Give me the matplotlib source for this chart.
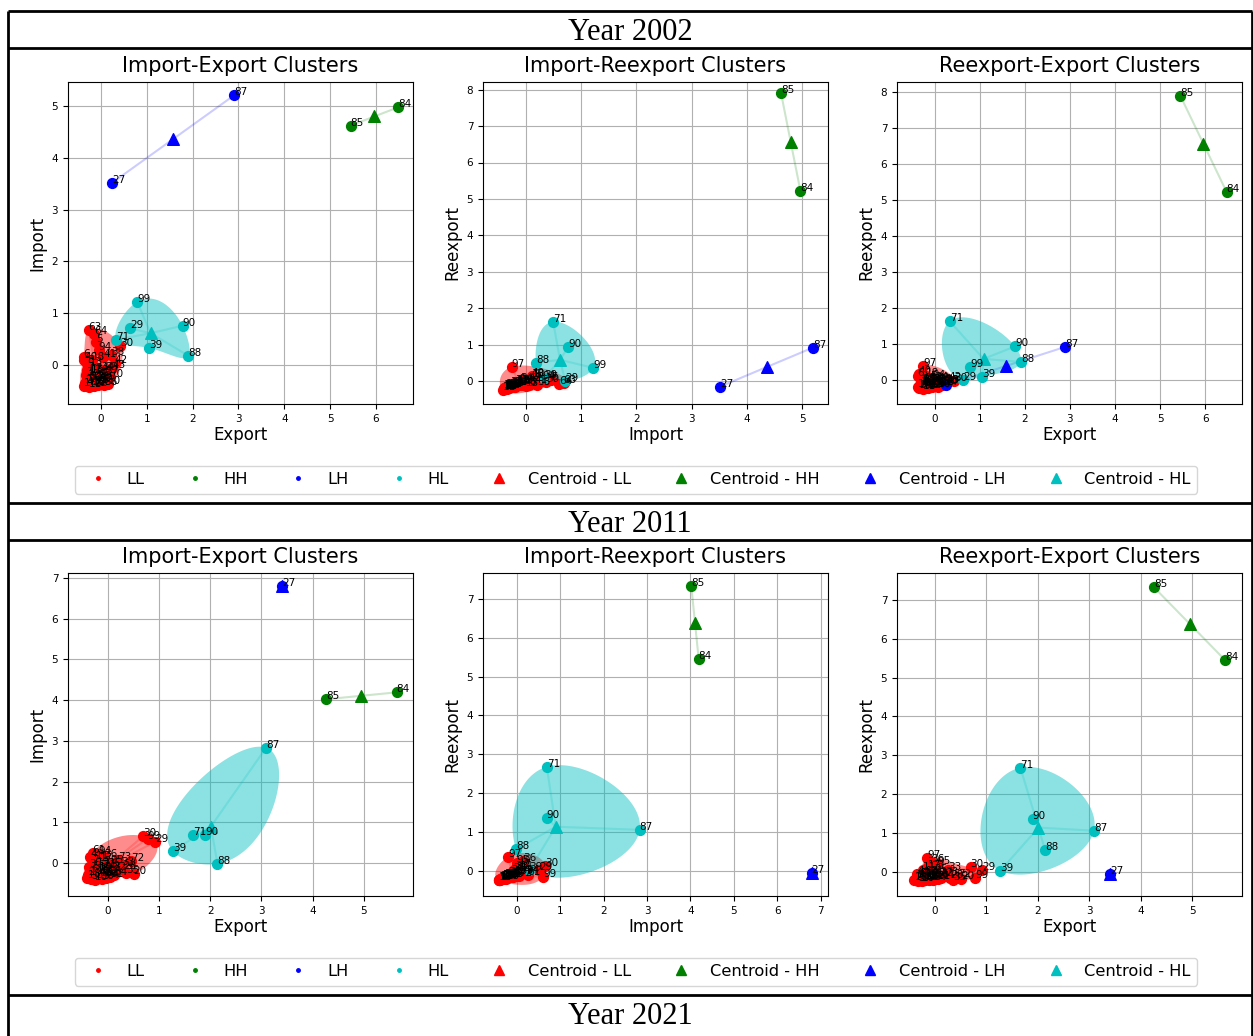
import numpy as np
import matplotlib
matplotlib.use("Agg")
import matplotlib.pyplot as plt
from matplotlib.lines import Line2D

# ---------------- DATA ----------------
cluster_names = ["LL", "HH", "LH", "HL"]
cluster_colors = {"LL": "r", "HH": "g", "LH": "b", "HL": "c"}
legend_labels = ["LL", "HH", "LH", "HL",
                 "Centroid - LL", "Centroid - HH", "Centroid - LH", "Centroid - HL"]
panel_titles = ["Import-Export Clusters", "Import-Reexport Clusters", "Reexport-Export Clusters"]
years = ["Year 2002", "Year 2011", "Year 2021"]

# Year 2002
ids_2002 = [87, 27, 85, 84, 99, 29, 90, 39, 88, 71,
            63, 64, 5, 94, 38, 70, 10, 33, 97, 30, 42, 6, 1, 2, 3, 4, 7, 8, 9, 11,
            12, 13, 14, 15, 16, 17, 18, 19, 21, 22, 23, 24, 25, 26, 28, 31, 32, 34,
            35, 36, 37, 40, 41, 43]
export_2002 = [2.90, 0.25, 5.45, 6.48, 0.79, 0.63, 1.78, 1.05, 1.91, 0.33,
               -0.27, -0.15, -0.10, -0.05, 0.22, 0.20, 0.15, 0.10, -0.26, 0.42, 0.30, -0.38,
               -0.38, -0.35, -0.33, -0.32, -0.30, -0.30, -0.28, -0.27, -0.26, -0.25, -0.24,
               -0.22, -0.21, -0.20, -0.19, -0.18, -0.16, -0.15, -0.13, -0.12, -0.10, -0.08,
               -0.06, -0.04, -0.02, 0.00, 0.03, 0.06, 0.10, -0.36, 0.05, 0.25]
import_2002 = [5.20, 3.52, 4.62, 4.97, 1.22, 0.71, 0.76, 0.33, 0.18, 0.49,
               0.68, 0.60, 0.45, 0.30, 0.20, -0.22, -0.36, -0.10, -0.26, 0.36, 0.05, 0.15,
               -0.40, -0.35, -0.20, -0.38, -0.10, 0.05, -0.30, -0.42, -0.15, 0.00, -0.33,
               -0.15, -0.38, -0.28, 0.10, -0.36, -0.22, -0.40, -0.30, -0.12, -0.34, -0.26,
               -0.39, -0.20, -0.32, -0.10, -0.28, -0.38, -0.18, 0.10, 0.15, -0.05]
reexport_2002 = [0.92, -0.15, 7.90, 5.22, 0.36, 0.00, 0.93, 0.08, 0.50, 1.63,
                 -0.05, -0.08, 0.02, 0.05, -0.10, -0.12, -0.15, -0.05, 0.39, -0.02, 0.00, 0.12,
                 -0.20, -0.22, -0.15, -0.18, -0.10, -0.12, -0.20, -0.25, -0.05, -0.14, -0.18,
                 -0.08, -0.22, -0.16, 0.10, -0.19, -0.11, -0.23, -0.15, -0.02, -0.20, -0.13,
                 -0.21, -0.06, -0.17, 0.00, -0.12, -0.20, -0.09, 0.15, -0.04, -0.08]
cluster_2002 = ["LH", "LH", "HH", "HH", "HL", "HL", "HL", "HL", "HL", "HL"] + ["LL"] * 44

# Year 2011
ids_2011 = [27, 85, 84, 87, 71, 90, 39, 88,
            30, 99, 29, 61, 94, 73, 72, 28, 20, 97, 95, 33, 1, 2, 3, 4, 5, 6, 7, 8, 9,
            10, 11, 12, 13, 14, 15, 16, 17, 18, 19, 21, 22, 23, 24, 25, 26, 31, 32, 34,
            35, 36]
export_2011 = [3.40, 4.26, 5.64, 3.09, 1.66, 1.90, 1.27, 2.14,
               0.69, 0.78, 0.92, -0.30, -0.18, 0.20, 0.45, 0.30, 0.50, -0.15, 0.05, 0.25,
               -0.40, -0.38, -0.36, -0.35, -0.33, -0.32, -0.30, -0.28, -0.27, -0.25, -0.24,
               -0.22, -0.21, -0.20, -0.18, -0.16, -0.15, -0.13, -0.12, -0.10, -0.08, -0.06,
               -0.04, -0.02, 0.00, 0.05, 0.10, 0.12, 0.35, -0.08]
import_2011 = [6.79, 4.02, 4.19, 2.83, 0.69, 0.69, 0.29, -0.02,
               0.66, 0.60, 0.52, 0.25, 0.22, 0.08, 0.05, -0.15, -0.28, -0.20, 0.00, -0.05,
               -0.38, -0.30, -0.10, 0.15, -0.40, -0.22, 0.00, -0.35, -0.15, -0.42, 0.10,
               -0.28, -0.05, -0.38, -0.18, -0.32, 0.05, -0.25, -0.40, -0.12, -0.30, -0.20,
               -0.36, -0.08, -0.26, -0.35, -0.18, -0.30, -0.25, 0.15]
reexport_2011 = [-0.05, 7.32, 5.45, 1.06, 2.68, 1.37, 0.03, 0.56,
                 0.12, -0.15, 0.04, -0.10, -0.05, -0.08, -0.12, -0.15, -0.18, 0.37, 0.20, 0.05,
                 -0.22, -0.20, -0.15, -0.05, -0.24, -0.18, -0.10, -0.21, -0.12, -0.23, 0.05,
                 -0.17, -0.08, -0.20, -0.14, -0.19, 0.10, -0.16, -0.22, -0.05, -0.18, -0.10,
                 -0.20, 0.00, -0.14, -0.19, -0.10, -0.16, -0.20, 0.25]
cluster_2011 = ["LH", "HH", "HH", "HL", "HL", "HL", "HL", "HL"] + ["LL"] * 42

# ---------------- LAYOUT ----------------
W, H = 1253, 1036
fig = plt.figure(figsize=(W / 100, H / 100), dpi=100)

def px_rect(l, t, r, b):
    return [l / W, 1 - b / H, (r - l) / W, (b - t) / H]

# background table
bg = fig.add_axes([0, 0, 1, 1])
bg.set_xlim(0, W)
bg.set_ylim(H, 0)
bg.axis("off")
for yy in [11, 48, 503, 540, 995]:
    bg.plot([8, 1252], [yy, yy], color="black", lw=2, solid_capstyle="butt")
for xx in [8, 1252]:
    bg.plot([xx, xx], [11, H], color="black", lw=2, solid_capstyle="butt")
for txt, yy in zip(years, [33, 525, 1017]):
    bg.text(630, yy, txt, ha="center", va="center", fontsize=22,
            family="Liberation Serif")


def convex_hull(pts):
    pts = sorted(set(map(tuple, pts)))
    if len(pts) < 3:
        return np.array(pts)

    def cross(o, a, b):
        return (a[0] - o[0]) * (b[1] - o[1]) - (a[1] - o[1]) * (b[0] - o[0])
    lower = []
    for p in pts:
        while len(lower) >= 2 and cross(lower[-2], lower[-1], p) <= 0:
            lower.pop()
        lower.append(p)
    upper = []
    for p in reversed(pts):
        while len(upper) >= 2 and cross(upper[-2], upper[-1], p) <= 0:
            upper.pop()
        upper.append(p)
    return np.array(lower[:-1] + upper[:-1])


def periodic_spline(hx, hy, n=200):
    m = len(hx)
    xx = np.append(hx, hx[0])
    yy = np.append(hy, hy[0])
    h = np.hypot(np.diff(xx), np.diff(yy))
    t = np.concatenate([[0], np.cumsum(h)])
    A = np.zeros((m, m))
    for i in range(m):
        A[i, (i - 1) % m] += h[i - 1]
        A[i, i] += 2 * (h[i - 1] + h[i])
        A[i, (i + 1) % m] += h[i]
    tt = np.linspace(0, t[-1], n)
    idx = np.clip(np.searchsorted(t, tt, side="right") - 1, 0, m - 1)
    out = []
    for v in (hx, hy):
        vv = np.append(v, v[0])
        rhs = np.array([6 * ((vv[i + 1] - vv[i]) / h[i] - (v[i] - v[(i - 1) % m]) / h[i - 1])
                        for i in range(m)])
        M = np.linalg.solve(A, rhs)
        MM = np.append(M, M[0])
        t0, t1 = t[idx], t[idx + 1]
        hh = t1 - t0
        a, b = t1 - tt, tt - t0
        s = (MM[idx] * a ** 3 / (6 * hh) + MM[idx + 1] * b ** 3 / (6 * hh)
             + (vv[idx] / hh - MM[idx] * hh / 6) * a + (vv[idx + 1] / hh - MM[idx + 1] * hh / 6) * b)
        out.append(s)
    return out


def draw_panel(ax, xs, ys, ids, clusters, title, xlabel, ylabel, xlim, ylim):
    xs = np.asarray(xs, float)
    ys = np.asarray(ys, float)
    clusters = np.asarray(clusters)
    for name in cluster_names:
        msk = clusters == name
        if not msk.any():
            continue
        col = cluster_colors[name]
        px, py = xs[msk], ys[msk]
        ax.scatter(px, py, s=50, c=col, zorder=2)
        cx, cy = px.mean(), py.mean()
        ax.scatter([cx], [cy], marker="^", s=70, c=col, zorder=3)
        for x, y in zip(px, py):
            ax.plot([cx, x], [cy, y], color=col, alpha=0.2, lw=1.5, zorder=1)
        if msk.sum() >= 3:
            hull = convex_hull(np.column_stack([px, py]))
            if len(hull) >= 3:
                sx, sy = periodic_spline(hull[:, 0], hull[:, 1])
                ax.fill(sx, sy, color=col, alpha=0.45, lw=0, zorder=1)
    for x, y, l in zip(xs, ys, ids):
        ax.text(x, y, str(l), fontsize=7.5, zorder=4)
    ax.set_xlim(*xlim)
    ax.set_ylim(*ylim)
    ax.set_title(title, fontsize=15, pad=7)
    ax.set_xlabel(xlabel, fontsize=12, labelpad=2)
    ax.set_ylabel(ylabel, fontsize=12, labelpad=4)
    ax.tick_params(labelsize=7.5)
    ax.grid(True, color="#b0b0b0", lw=0.8)
    ax.set_axisbelow(True)


cols_px = [(68, 413), (483, 828), (897, 1242)]
rows_px = [(82, 404), (573, 896)]
legend_px = [(465, 494), (957, 986)]

year_data = [
    (ids_2002, export_2002, import_2002, reexport_2002, cluster_2002,
     [((-0.72, 6.81), (-0.75, 5.46)), ((-0.78, 5.47), (-0.63, 8.21)), ((-0.84, 6.82), (-0.67, 8.28))]),
    (ids_2011, export_2011, import_2011, reexport_2011, cluster_2011,
     [((-0.78, 5.96), (-0.81, 7.12)), ((-0.78, 7.17), (-0.64, 7.66)), ((-0.74, 5.97), (-0.62, 7.69))]),
]

handles = []
for name in cluster_names:
    handles.append(Line2D([], [], ls="none", marker="o", ms=2.5, color=cluster_colors[name]))
for name in cluster_names:
    handles.append(Line2D([], [], ls="none", marker="^", ms=7, color=cluster_colors[name]))

for r, (ids, ex, im, re, cl, lims) in enumerate(year_data):
    top, bot = rows_px[r]
    specs = [(ex, im, "Export", "Import"), (im, re, "Import", "Reexport"), (ex, re, "Export", "Reexport")]
    for c, (xv, yv, xl, yl) in enumerate(specs):
        l, rr = cols_px[c]
        ax = fig.add_axes(px_rect(l, top, rr, bot))
        draw_panel(ax, xv, yv, ids, cl, panel_titles[c], xl, yl, lims[c][0], lims[c][1])
    lt, lb = legend_px[r]
    fig.legend(handles, legend_labels, loc="center", ncol=8, mode="expand",
               bbox_to_anchor=(75 / W, 1 - lb / H, (1197 - 75) / W, (lb - lt) / H),
               bbox_transform=fig.transFigure, fontsize=11.7, borderaxespad=0,
               handletextpad=0.75, frameon=True)

fig.savefig("out.png", dpi=100)
